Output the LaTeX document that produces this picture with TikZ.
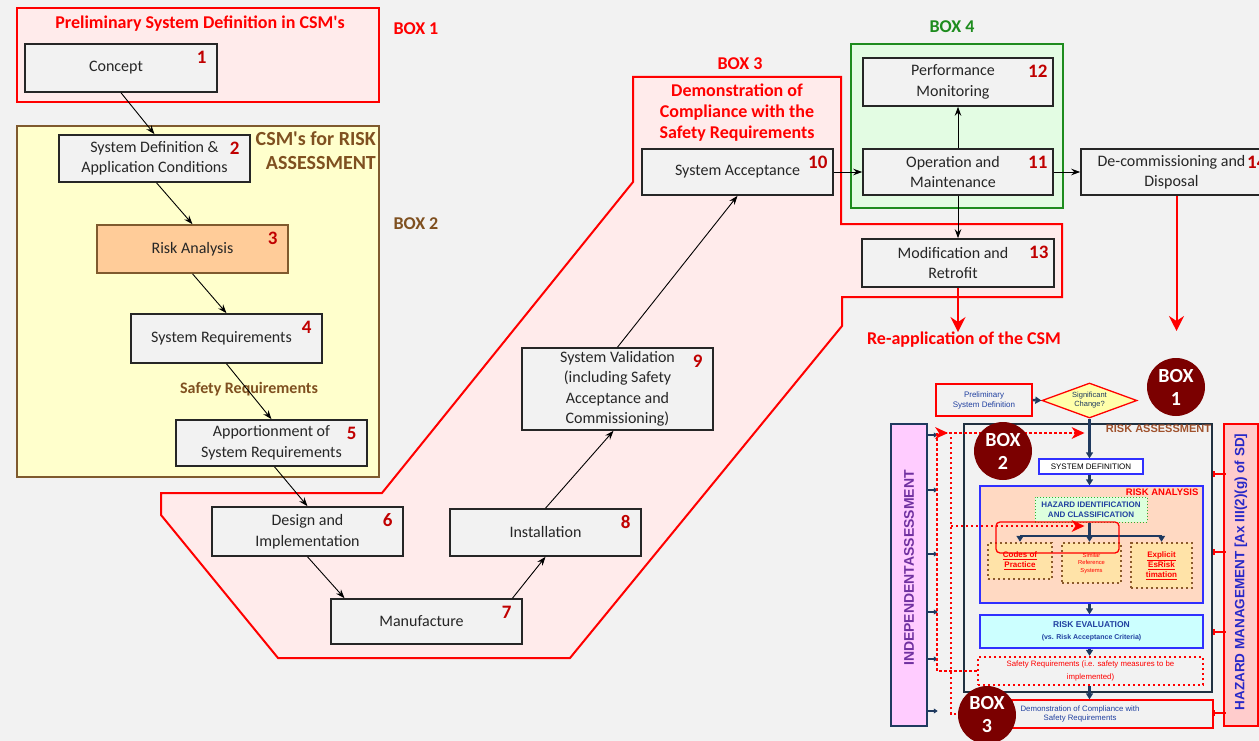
\documentclass[tikz,border=0pt]{standalone}
\usepackage{fontspec}
\setmainfont{Carlito}
\newfontfamily\arialf{Liberation Sans}
\usetikzlibrary{arrows.meta,shapes.geometric,calc}

\definecolor{bgc}{HTML}{F2F2F2}
\definecolor{boxfill}{HTML}{F2F2F2}
\definecolor{boxline}{HTML}{262626}
\definecolor{pinkfill}{HTML}{FFEBEB}
\definecolor{redc}{HTML}{FF0000}
\definecolor{numred}{HTML}{C00000}
\definecolor{yellowfill}{HTML}{FFFFCC}
\definecolor{brownc}{HTML}{7F5020}
\definecolor{brownline}{HTML}{7F5A2E}
\definecolor{peach}{HTML}{FFCC99}
\definecolor{greenc}{HTML}{1E8C1E}
\definecolor{greenfill}{HTML}{E3FCE3}
\definecolor{maroonc}{HTML}{7B0000}
\definecolor{navyc}{HTML}{1F3A5F}
\definecolor{bluebd}{HTML}{3030FF}
\definecolor{insetblue}{HTML}{2040A0}
\definecolor{peachtwo}{HTML}{FFD9C2}
\definecolor{hazfill}{HTML}{DDFFDD}
\definecolor{hazgreen}{HTML}{30B030}
\definecolor{dotbrown}{HTML}{8B5A2B}
\definecolor{dotfill}{HTML}{FFE3A8}
\definecolor{cyanfill}{HTML}{CCFFFF}
\definecolor{pinkind}{HTML}{FFCCFF}
\definecolor{purplec}{HTML}{7030A0}
\definecolor{hazpink}{HTML}{FFCCCC}
\definecolor{hazblue}{HTML}{2828C8}
\definecolor{siennac}{HTML}{A0522D}
\definecolor{slatec}{HTML}{203040}
\definecolor{sigyellow}{HTML}{FFFFAA}

\newcommand\stepnum[2]{\node[numlab] at ([xshift=-16pt,yshift=-14pt]#1.north east) {#2};}
\newcommand\apos{\textquotesingle}
% pad a line on the right so that centred text sits a little to the left
\newcommand\rpad[1]{#1\hspace*{10pt}}

\begin{document}
\begin{tikzpicture}[x=1pt,y=-1pt,
  stepbox/.style={draw=boxline, line width=1.6pt, fill=boxfill, text=boxline,
    align=center, inner sep=2pt, font={\fontsize{16}{20.5}\selectfont}},
  numlab/.style={text=numred, inner sep=0pt, font={\bfseries\fontsize{19}{19}\selectfont}},
  flowarr/.style={draw=black, line width=0.9pt, -{Stealth[length=9pt,width=6.5pt,inset=3pt]}},
  redarr/.style={draw=redc, line width=2pt, -{Stealth[length=15pt,width=15pt,inset=5pt]}},
  redtitle/.style={text=redc, align=center, inner sep=0pt, font={\bfseries\fontsize{18}{21}\selectfont}},
  boxtag/.style={inner sep=0pt, font={\bfseries\fontsize{18}{21}\selectfont}},
  insetarr/.style={draw=navyc, line width=2.4pt, -{Triangle[length=6pt,width=7pt]}},
  insettxt/.style={font={\arialf\fontsize{8}{10}\selectfont}, align=center},
  reddot/.style={draw=redc, line width=2.4pt, dash pattern=on 2.4pt off 2.6pt},
  boxcirc/.style={circle, fill=maroonc, minimum size=58pt, inner sep=0pt, text=white,
    align=center, font={\bfseries\fontsize{20}{23}\selectfont}},
  brdot/.style={draw=dotbrown, fill=dotfill, line width=2.4pt, dash pattern=on 2.4pt off 2.6pt,
    align=center, inner sep=0pt, text=redc}
]
\fill[bgc] (0,0) rectangle (1259,741);
\useasboundingbox (0,0) rectangle (1259,741);

% ---------- group frames ----------
\draw[redc, line width=2pt, fill=pinkfill] (17,8) rectangle (379,102);
\draw[brownline, line width=2pt, fill=yellowfill] (17,126) rectangle (379,477);
\draw[redc, line width=2pt, fill=pinkfill]
  (633,77) -- (841,77) -- (841,224) -- (1062,224) -- (1062,297) -- (842,297) -- (842,326)
  -- (570,658) -- (278,658) -- (161,515) -- (161,493) -- (382,493) -- (633,182) -- cycle;
\draw[greenc, line width=2pt, fill=greenfill] (851,44) rectangle (1063,208);

% ---------- group titles ----------
\node[redtitle] at (200,24) {Preliminary System Definition in CSM\apos s};
\node[boxtag, text=redc] at (416,29) {BOX 1};
\node[boxtag, text=brownc, font={\bfseries\fontsize{20}{24}\selectfont}, align=right, anchor=east]
  at (376,151) {CSM\apos s for RISK\\ASSESSMENT};
\node[boxtag, text=brownc] at (416,224) {BOX 2};
\node[boxtag, text=brownc, font={\bfseries\fontsize{16}{18}\selectfont}] at (249,389) {Safety Requirements};
\node[boxtag, text=redc] at (740,64) {BOX 3};
\node[redtitle] at (737,113) {Demonstration of\\Compliance with the\\Safety Requirements};
\node[boxtag, text=greenc] at (952,27) {BOX 4};

% ---------- life-cycle steps ----------
\node[stepbox, minimum width=192pt, minimum height=48pt] (concept) at (121,68) {\rpad{Concept}};
\node[stepbox, minimum width=191pt, minimum height=47pt] (sysdef) at (154.5,158.5) {System Definition \&\\Application Conditions};
\node[stepbox, minimum width=191pt, minimum height=48pt, fill=peach, draw=brownline] (riskan) at (192.5,249) {Risk Analysis};
\node[stepbox, minimum width=191pt, minimum height=49pt] (sysreq) at (226.5,338.5) {\rpad{System Requirements}};
\node[stepbox, minimum width=191pt, minimum height=46pt] (apport) at (271.5,443) {Apportionment of\\System Requirements};
\node[stepbox, minimum width=191pt, minimum height=49pt] (design) at (307.5,531.5) {Design and\\Implementation};
\node[stepbox, minimum width=191pt, minimum height=45pt] (manuf) at (426.5,621.5) {\rpad{Manufacture}};
\node[stepbox, minimum width=191pt, minimum height=47pt] (install) at (545.5,532.5) {Installation};
\node[stepbox, minimum width=191pt, minimum height=82pt] (sysval) at (617.5,389) {System Validation\\(including Safety\\Acceptance and\\Commissioning)};
\node[stepbox, minimum width=191pt, minimum height=46pt] (sysacc) at (737.5,172) {System Acceptance};
\node[stepbox, minimum width=190pt, minimum height=46pt] (opmaint) at (958,172) {\rpad{Operation and}\\\rpad{Maintenance}};
\node[stepbox, minimum width=190pt, minimum height=48pt] (perfmon) at (958,82) {\rpad{Performance}\\\rpad{Monitoring}};
\node[stepbox, minimum width=192pt, minimum height=48pt] (modret) at (958,263) {\rpad{Modification and}\\\rpad{Retrofit}};
\node[stepbox, minimum width=191pt, minimum height=46pt] (decom) at (1176.5,172) {\rpad{De-commissioning and}\\\rpad{Disposal}};

\stepnum{concept}{1}
\stepnum{sysdef}{2}
\stepnum{riskan}{3}
\stepnum{sysreq}{4}
\stepnum{apport}{5}
\stepnum{design}{6}
\stepnum{manuf}{7}
\stepnum{install}{8}
\stepnum{sysval}{9}
\stepnum{sysacc}{10}
\stepnum{opmaint}{11}
\stepnum{perfmon}{12}
\stepnum{modret}{13}
\stepnum{decom}{14}

% ---------- flow ----------
\draw[flowarr] (concept.south) -- (sysdef.north);
\draw[flowarr] ([xshift=2pt]sysdef.south) -- (riskan.north);
\draw[flowarr] (riskan.south) -- (sysreq.north);
\draw[flowarr] (sysreq.south) -- (apport.north);
\draw[flowarr] ([xshift=3pt]apport.south) -- (design.north);
\draw[flowarr] (design.south) -- ([xshift=-82pt]manuf.north);
\draw[flowarr] ([xshift=86pt]manuf.north) -- (install.south);
\draw[flowarr] (install.north) -- ([xshift=-4pt]sysval.south);
\draw[flowarr] (sysval.north) -- (sysacc.south);
\draw[flowarr] (sysacc.east) -- (opmaint.west);
\draw[flowarr] (opmaint.north) -- (perfmon.south);
\draw[flowarr] (opmaint.south) -- (modret.north);
\draw[flowarr] (opmaint.east) -- (decom.west);

\node[redtitle] (reapp) at (964,340) {Re-application of the CSM};
\coordinate (decomend) at (1176,331);
\draw[redarr] (modret.south) -- (modret.south |- reapp.north);
\draw[redarr] (decom.south) -- (decom.south |- decomend);

% ---------- risk assessment process ----------
\node[draw=slatec, line width=1.5pt, minimum width=248pt, minimum height=268pt] (rafr) at (1088,558) {};
\node[anchor=north east, text=siennac, inner sep=1.5pt, font={\arialf\bfseries\fontsize{11}{12}\selectfont}]
  at (rafr.north east) {RISK ASSESSMENT};

\node[draw=navyc, line width=1.5pt, fill=pinkind, minimum width=36pt, minimum height=302pt] (indep) at (909,575) {};
\node[rotate=90, text=purplec, inner sep=0pt, font={\arialf\bfseries\fontsize{14}{14}\selectfont}]
  at ([yshift=7pt]indep.center) {INDEPENDENTASSESSMENT};
\node[draw=redc, line width=1.5pt, fill=hazpink, minimum width=34pt, minimum height=302pt] (hazard) at (1241,575) {};
\node[rotate=90, text=hazblue, inner sep=0pt, font={\arialf\bfseries\fontsize{13.5}{14}\selectfont}]
  at ([yshift=3pt]hazard.center) {HAZARD MANAGEMENT [Ax III(2)(g) of SD]};

\node[insettxt, draw=redc, line width=1.3pt, minimum width=96pt, minimum height=32pt, text=insetblue,
  font={\arialf\fontsize{8}{10}\selectfont}] (prelim) at (984,400) {Preliminary\\System Definition};
\node[diamond, aspect=2.7, draw=redc, line width=1.3pt, fill=sigyellow, minimum width=95pt, minimum height=35pt,
  inner sep=0pt, align=center, text=navyc, font={\arialf\fontsize{7.5}{9}\selectfont}] (sig) at (1089.5,400.5) {Significant\\Change?};
\node[insettxt, draw=bluebd, line width=1.3pt, fill=white, minimum width=104pt, minimum height=15pt, inner sep=0pt,
  font={\arialf\fontsize{8}{8}\selectfont}] (sd2) at (1091,466.5) {SYSTEM DEFINITION};

\node[draw=bluebd, line width=1.3pt, fill=peachtwo, minimum width=223pt, minimum height=117pt] (ra) at (1091.5,544.5) {};
\node[anchor=north east, text=redc, inner sep=0pt, font={\arialf\bfseries\fontsize{9.5}{10}\selectfont}]
  at ([xshift=-5pt,yshift=-3pt]ra.north east) {RISK ANALYSIS};
\node[insettxt, draw=hazgreen, fill=hazfill, line width=1pt, dotted, minimum width=112pt, minimum height=25pt, inner sep=0pt,
  text=insetblue, font={\arialf\bfseries\fontsize{8}{10}\selectfont}] (haz) at (1091,509.5) {HAZARD IDENTIFICATION\\AND CLASSIFICATION};
\node[brdot, minimum width=64pt, minimum height=36pt, font={\arialf\bfseries\fontsize{8}{10}\selectfont}]
  (codes) at (1020,561) {\underline{Codes of}\\\underline{Practice}};
\node[brdot, minimum width=59pt, minimum height=40pt, font={\arialf\fontsize{5.8}{7.5}\selectfont}]
  (similar) at (1091.5,563) {Similar\\Reference\\Systems};
\node[brdot, minimum width=61pt, minimum height=45pt, font={\arialf\bfseries\fontsize{8}{10}\selectfont}]
  (explicit) at (1161.5,565.5) {\underline{Explicit}\\\underline{EsRisk}\\\underline{timation}};

\node[insettxt, draw=bluebd, line width=1.3pt, fill=cyanfill, minimum width=223pt, minimum height=33pt, inner sep=0pt,
  text=insetblue, font={\arialf\bfseries\fontsize{8.5}{12.5}\selectfont}] (ev) at (1091.5,631.5)
  {RISK EVALUATION\\{\fontsize{7}{8}\selectfont (vs. Risk Acceptance Criteria)}};
\node[insettxt, draw=redc, line width=2.4pt, dash pattern=on 2.4pt off 2.6pt, minimum width=225pt, minimum height=28pt,
  inner sep=0pt, text=redc, font={\arialf\fontsize{7.8}{13}\selectfont}] (sreq) at (1090.5,671)
  {Safety Requirements (i.e. safety measures to be\\implemented)};
\node[draw=redc, line width=1.3pt, minimum width=201pt, minimum height=28pt] (demo) at (1112.5,714) {};
\node[insettxt, inner sep=0pt, text=insetblue, font={\arialf\fontsize{7.8}{9.5}\selectfont}] (demotxt) at (1080,714)
  {Demonstration of Compliance with\\Safety Requirements};

% main thread of the process
\draw[insetarr] (prelim.east) -- (sig.west);
\draw[insetarr] (sig.south) -- (sig.south |- sd2.north);
\draw[insetarr] (sd2.south -| sig.south) -- (ra.north -| sig.south);
\draw[insetarr] (haz.south -| sig.south) -- (similar.north -| sig.south);
\coordinate (br) at (1089.5,536);
\draw[draw=navyc, line width=2.4pt] (codes.north |- br) -- (explicit.north |- br);
\draw[insetarr] (codes.north |- br) -- (codes.north);
\draw[insetarr] (explicit.north |- br) -- (explicit.north);
\draw[insetarr] (ra.south -| sig.south) -- (ev.north -| sig.south);
\draw[insetarr] (ev.south -| sig.south) -- (sreq.north -| sig.south);
\draw[insetarr] (sreq.south -| sig.south) -- (demo.north -| sig.south);

% links to the side activities
\foreach \yy in {435,490,554,612,659,711}
  \draw[navyc, line width=1.5pt, -{Triangle[length=4pt,width=5pt]}] (indep.east |- 0,\yy) -- ($(indep.east |- 0,\yy)+(10,0)$);
\foreach \yy in {474,552,632,713}
  \draw[redc, line width=1.3pt, {Bar[width=6pt]}-] ($(hazard.west |- 0,\yy)+(-10,0)$) -- ($(hazard.west |- 0,\yy)+(3,0)$);

% iteration loops
\coordinate (lpa1) at (937,671);
\coordinate (lpa2) at (937,433);
\coordinate (lpb1) at (951,714);
\coordinate (lpb2) at (951,433);
\coordinate (lpc) at (951,526);
\draw[reddot] (sreq.west) -- (lpa1) -- (lpa2) -- ($(sig.south |- lpa2)+(-10,0)$);
\draw[reddot] (demo.west |- lpb1) -- (lpb1) -- (lpb2);
\draw[reddot] (lpc) -- ($(sig.south |- lpc)+(-10,0)$);
\fill[redc] ($(sig.south |- lpa2)+(-18,-6)$) -- ($(sig.south |- lpa2)+(-5,0)$) -- ($(sig.south |- lpa2)+(-18,6)$) -- ($(sig.south |- lpa2)+(-14,0)$) -- cycle;
\fill[redc] ($(sig.south |- lpc)+(-18,-6)$) -- ($(sig.south |- lpc)+(-5,0)$) -- ($(sig.south |- lpc)+(-18,6)$) -- ($(sig.south |- lpc)+(-14,0)$) -- cycle;
\fill[redc] ($(lpa2)+(-2,-6)$) -- ($(lpa2)+(11,0)$) -- ($(lpa2)+(-2,6)$) -- ($(lpa2)+(2,0)$) -- cycle;
\draw[redc, line width=1.3pt, rounded corners=4pt] (996,522) rectangle (1119,553);

% box markers
\node[boxcirc] (c1) at (1176,387) {BOX\\1};
\node[boxcirc] (c2) at (1003,451) {BOX\\2};
\node[boxcirc] (c3) at (987,715) {BOX\\3};
\end{tikzpicture}
\end{document}
